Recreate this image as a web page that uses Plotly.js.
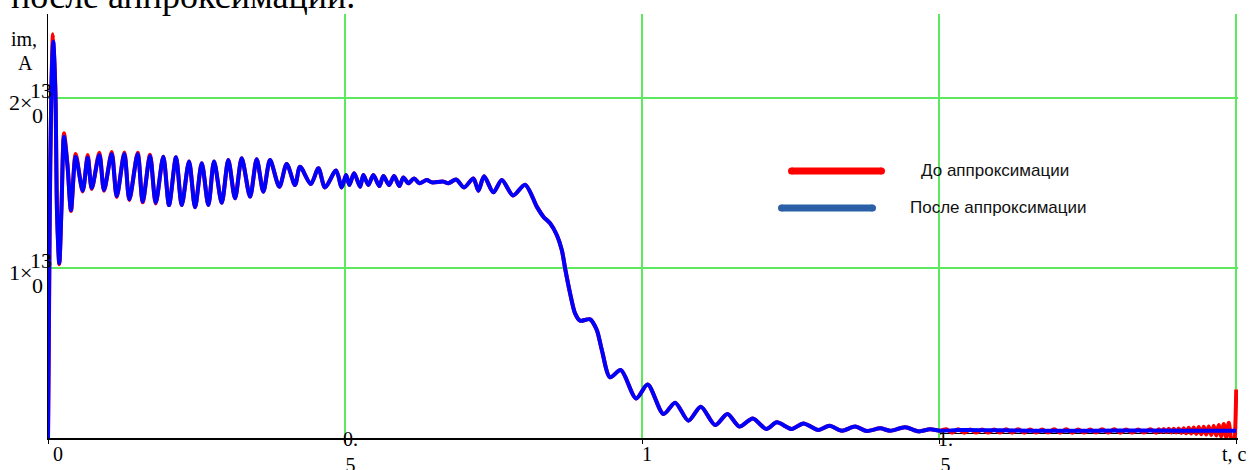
<!DOCTYPE html>
<html>
<head>
<meta charset="utf-8">
<script src="https://cdn.plot.ly/plotly-3.0.1.min.js"></script>
<style>
html,body{margin:0;padding:0;background:#fff;overflow:hidden;}
#chart{width:1256px;height:470px;}
</style>
</head>
<body>
<div id="chart"></div>
<script>
// ---------- DATA ----------
// "После аппроксимации" (blue) curve: time, s
const blueT = [0, 0.0025, 0.0059, 0.0089, 0.0126, 0.0152, 0.0190, 0.0227, 0.0269, 0.0328,
  0.0387, 0.0466, 0.0584, 0.0668, 0.0736, 0.0864, 0.0943, 0.1072, 0.1157, 0.1285,
  0.1369, 0.1510, 0.1594, 0.1717, 0.1813, 0.1941, 0.2037, 0.2155, 0.2251, 0.2374,
  0.2475, 0.2588, 0.2699, 0.2795, 0.2924, 0.3035, 0.3148, 0.3261, 0.3401, 0.3513,
  0.3625, 0.3737, 0.3894, 0.4018, 0.4158, 0.4242, 0.4423, 0.4551, 0.4663, 0.4848,
  0.4944, 0.5017, 0.5072, 0.5152, 0.5253, 0.5308, 0.5392, 0.5476, 0.5577, 0.5645,
  0.5741, 0.5825, 0.5914, 0.5981, 0.6066, 0.6162, 0.6251, 0.6375, 0.6460, 0.6655,
  0.6739, 0.6869, 0.7003, 0.7160, 0.7244, 0.7340, 0.7497, 0.7638, 0.7828, 0.8030,
  0.8227, 0.8338, 0.8451, 0.8564, 0.8648, 0.8704, 0.8788, 0.8872, 0.8956, 0.9125,
  0.9237, 0.9322, 0.9461, 0.9641, 0.9899, 1.0093, 1.0359, 1.0556, 1.0779, 1.0988,
  1.1229, 1.1436, 1.1638, 1.1864, 1.2088, 1.2268, 1.2520, 1.2715, 1.2968, 1.3153,
  1.3362, 1.3586, 1.3783, 1.4007, 1.4175, 1.4428, 1.4652, 1.4848, 1.5017, 1.5354,
  1.6027, 1.7037, 1.8047, 1.9057, 2.0];
// current im, A
const blueY = [0, 1200, 2100, 2331, 2000, 1323, 1029, 1350, 1772, 1600,
  1341, 1655, 1455, 1650, 1470, 1665, 1459, 1670, 1423, 1670,
  1404, 1670, 1390, 1659, 1384, 1655, 1370, 1651, 1370, 1627,
  1357, 1616, 1370, 1627, 1384, 1635, 1410, 1645, 1420, 1639,
  1449, 1635, 1478, 1612, 1488, 1596, 1494, 1586, 1474, 1573,
  1474, 1547, 1488, 1557, 1478, 1547, 1488, 1547, 1482, 1541,
  1488, 1541, 1482, 1533, 1498, 1527, 1498, 1518, 1504, 1508,
  1498, 1521, 1474, 1527, 1455, 1539, 1445, 1518, 1427, 1490,
  1361, 1302, 1263, 1194, 1106, 998, 851, 733, 690, 698,
  635, 518, 357, 400, 233, 315, 141, 208, 102, 184,
  76, 141, 67, 115, 53, 92, 53, 86, 47, 72,
  43, 67, 41, 57, 43, 63, 39, 51, 43, 47,
  45, 42, 44, 43, 43];

// "До аппроксимации" (red) curve: start segment
const redHeadT = [0, 0.0012, 0.0040, 0.0084, 0.0124, 0.0152, 0.0190, 0.0227, 0.0269, 0.0328,
  0.0387, 0.0466, 0.0584, 0.0668, 0.0736, 0.0864, 0.0943, 0.1072, 0.1157, 0.1285,
  0.1369, 0.1510, 0.1594, 0.1717, 0.1813];
const redHeadY = [0, 450, 1650, 2375, 2060, 1330, 1022, 1360, 1792, 1610,
  1335, 1670, 1450, 1664, 1465, 1678, 1455, 1682, 1418, 1680,
  1400, 1678, 1386, 1666, 1380];
// red middle segment coincides with the blue curve (indices of blueT/blueY)
const redMidFrom = 25, redMidTo = 118;
// red end segment (oscillations before t = 2 s)
const redTailT = [1.5017, 1.5118, 1.5219, 1.5320, 1.5421, 1.5522, 1.5623, 1.5724, 1.5825, 1.5926,
  1.6027, 1.6128, 1.6229, 1.6330, 1.6431, 1.6532, 1.6633, 1.6734, 1.6835, 1.6936,
  1.7037, 1.7138, 1.7239, 1.7340, 1.7441, 1.7542, 1.7643, 1.7744, 1.7845, 1.7946,
  1.8047, 1.8148, 1.8249, 1.8350, 1.8451, 1.8552, 1.8653,
  1.8695, 1.8737, 1.8779, 1.8822, 1.8864, 1.8906, 1.8948, 1.8990, 1.9032, 1.9074,
  1.9116, 1.9158, 1.9200, 1.9242, 1.9285, 1.9327, 1.9369, 1.9411, 1.9453, 1.9495,
  1.9537, 1.9579, 1.9621, 1.9663, 1.9705, 1.9747, 1.9790, 1.9832, 1.9874, 1.9916,
  1.9958, 2.0];
const redTailY = [43, 51, 31, 51, 31, 50, 32, 50, 32, 50,
  32, 51, 31, 51, 31, 50, 32, 50, 32, 51,
  31, 51, 31, 50, 32, 50, 32, 51, 31, 51,
  31, 50, 32, 50, 32, 51, 31,
  52, 35, 53, 34, 54, 33, 55, 32, 56, 30,
  58, 28, 60, 26, 62, 24, 64, 22, 66, 20,
  68, 18, 72, 14, 76, 10, 82, 4, 90, -10,
  -55, 285];

const seriesNames = ['До аппроксимации', 'После аппроксимации'];
const xTickVals = [0, 0.5, 1, 1.5, 2];
const xTickText = ['0', '0.<br>5', '1', '1.<br>5'];
const yTickVals = [1000, 2000];
const yTickLead = ['1×', '2×'];
const yTickSup = ['13', '13'];
const yTickSub = ['0', '0'];
const titleText = 'после аппроксимации.';
const yAxisLabel = ['im,', 'A'];
const xAxisLabel = 't, c';

// ---------- LAYOUT CONSTANTS ----------
const W = 1256, H = 470;
const M = {l: 48, r: 18, t: 14, b: 32};
const plotW = W - M.l - M.r, plotH = H - M.t - M.b;
const px2x = px => (px - M.l) / plotW;
const py2y = py => (H - M.b - py) / plotH;
const SERIF = 'Liberation Serif, Times New Roman, serif';
const SANS = 'Liberation Sans, Arial, sans-serif';
const GREEN = '#5ee85e';
const RED = '#ff0000', BLUE = '#0000ff', LEG_BLUE = '#2b60a9';

const redT = redHeadT.concat(blueT.slice(redMidFrom, redMidTo), redTailT);
const redY = redHeadY.concat(blueY.slice(redMidFrom, redMidTo), redTailY);

const traces = [
  {x: redT, y: redY, mode: 'lines', name: seriesNames[0],
   line: {color: RED, width: 4, shape: 'spline', smoothing: 0.8}, hoverinfo: 'skip'},
  {x: blueT, y: blueY, mode: 'lines', name: seriesNames[1],
   line: {color: BLUE, width: 4, shape: 'spline', smoothing: 0.8}, hoverinfo: 'skip'}
];

const annotations = [];
function ann(o) {
  annotations.push(Object.assign({showarrow: false, borderpad: 0,
    font: {family: SERIF, size: 20, color: '#000'}}, o));
}
// title (cut off at top in the reference)
ann({text: titleText, xref: 'paper', x: 0, xanchor: 'left', xshift: -38,
     yref: 'paper', y: 1, yanchor: 'middle', yshift: 18,
     font: {family: SERIF, size: 36, color: '#000'}});
// y axis label
ann({text: yAxisLabel[0], xref: 'paper', x: 0, xanchor: 'center', xshift: -24.5,
     yref: 'paper', y: 1, yanchor: 'middle', yshift: -25, font: {family: SERIF, size: 20, color: '#000'}});
ann({text: yAxisLabel[1], xref: 'paper', x: 0, xanchor: 'center', xshift: -22.5,
     yref: 'paper', y: 1, yanchor: 'middle', yshift: -49, font: {family: SERIF, size: 20, color: '#000'}});
// y tick labels (Mathcad-style broken 1×10^3)
const YF = {family: SERIF, size: 22, color: '#000'};
yTickVals.forEach((v, i) => {
  ann({text: yTickLead[i], xref: 'paper', x: 0, xanchor: 'right', xshift: -15,
       yref: 'y', y: v, yanchor: 'middle', yshift: -5, font: YF});
  ann({text: yTickSup[i], xref: 'paper', x: 0, xanchor: 'center', xshift: -7,
       yref: 'y', y: v, yanchor: 'middle', yshift: 7, font: YF});
  ann({text: yTickSub[i], xref: 'paper', x: 0, xanchor: 'center', xshift: -11,
       yref: 'y', y: v, yanchor: 'middle', yshift: -18, font: YF});
});
// x tick labels
const xLabelShift = [10, 5, 5, 6];
xTickText.forEach((t, i) => {
  ann({text: t, xref: 'x', x: xTickVals[i], xanchor: 'center', xshift: xLabelShift[i],
       yref: 'paper', y: 0, yanchor: 'middle', yshift: t.indexOf('<br>') > 0 ? -14 : -16});
});
ann({text: xAxisLabel, xref: 'paper', x: 1, xanchor: 'center', xshift: -4,
     yref: 'paper', y: 0, yanchor: 'middle', yshift: -16});
// legend texts
ann({text: seriesNames[0], xref: 'paper', x: px2x(920), xanchor: 'left',
     yref: 'paper', y: py2y(171), yanchor: 'middle', font: {family: SANS, size: 17, color: '#111'}});
ann({text: seriesNames[1], xref: 'paper', x: px2x(909), xanchor: 'left',
     yref: 'paper', y: py2y(208), yanchor: 'middle', font: {family: SANS, size: 17, color: '#111'}});

const shapes = [];
function legendLine(x0px, x1px, ypx, color) {
  shapes.push({type: 'line', xref: 'paper', yref: 'paper', x0: px2x(x0px), x1: px2x(x1px),
    y0: py2y(ypx), y1: py2y(ypx), line: {color: color, width: 7}});
  [x0px, x1px].forEach(p => shapes.push({type: 'circle', xref: 'paper', yref: 'paper',
    xsizemode: 'pixel', ysizemode: 'pixel', xanchor: px2x(p), yanchor: py2y(ypx),
    x0: -3.5, x1: 3.5, y0: -3.5, y1: 3.5, fillcolor: color, line: {width: 0}}));
}
legendLine(791.5, 881.5, 171, RED);
legendLine(781.5, 872.5, 208, LEG_BLUE);
// doubled axis stroke near the right end
shapes.push({type: 'line', xref: 'x', yref: 'paper', x0: 1.5, x1: 1.98,
  y0: py2y(433.5), y1: py2y(433.5), line: {color: '#000', width: 1}, layer: 'below'});

const layout = {
  width: W, height: H,
  margin: M,
  paper_bgcolor: '#fff', plot_bgcolor: '#fff',
  showlegend: false,
  xaxis: {range: [0, 2.003], tickvals: xTickVals, ticks: 'outside', ticklen: 4,
    tickcolor: '#000', showticklabels: false, showgrid: true, gridcolor: GREEN, gridwidth: 1.5,
    zeroline: false, showline: true, linecolor: '#000', linewidth: 1.5, fixedrange: true},
  yaxis: {range: [0, 2494], tickvals: yTickVals, ticks: '', showticklabels: false,
    showgrid: true, gridcolor: GREEN, gridwidth: 1.5, zeroline: false,
    showline: true, linecolor: '#000', linewidth: 1.5, fixedrange: true},
  annotations: annotations,
  shapes: shapes
};

Plotly.newPlot('chart', traces, layout, {displayModeBar: false, staticPlot: true});
</script>
</body>
</html>
